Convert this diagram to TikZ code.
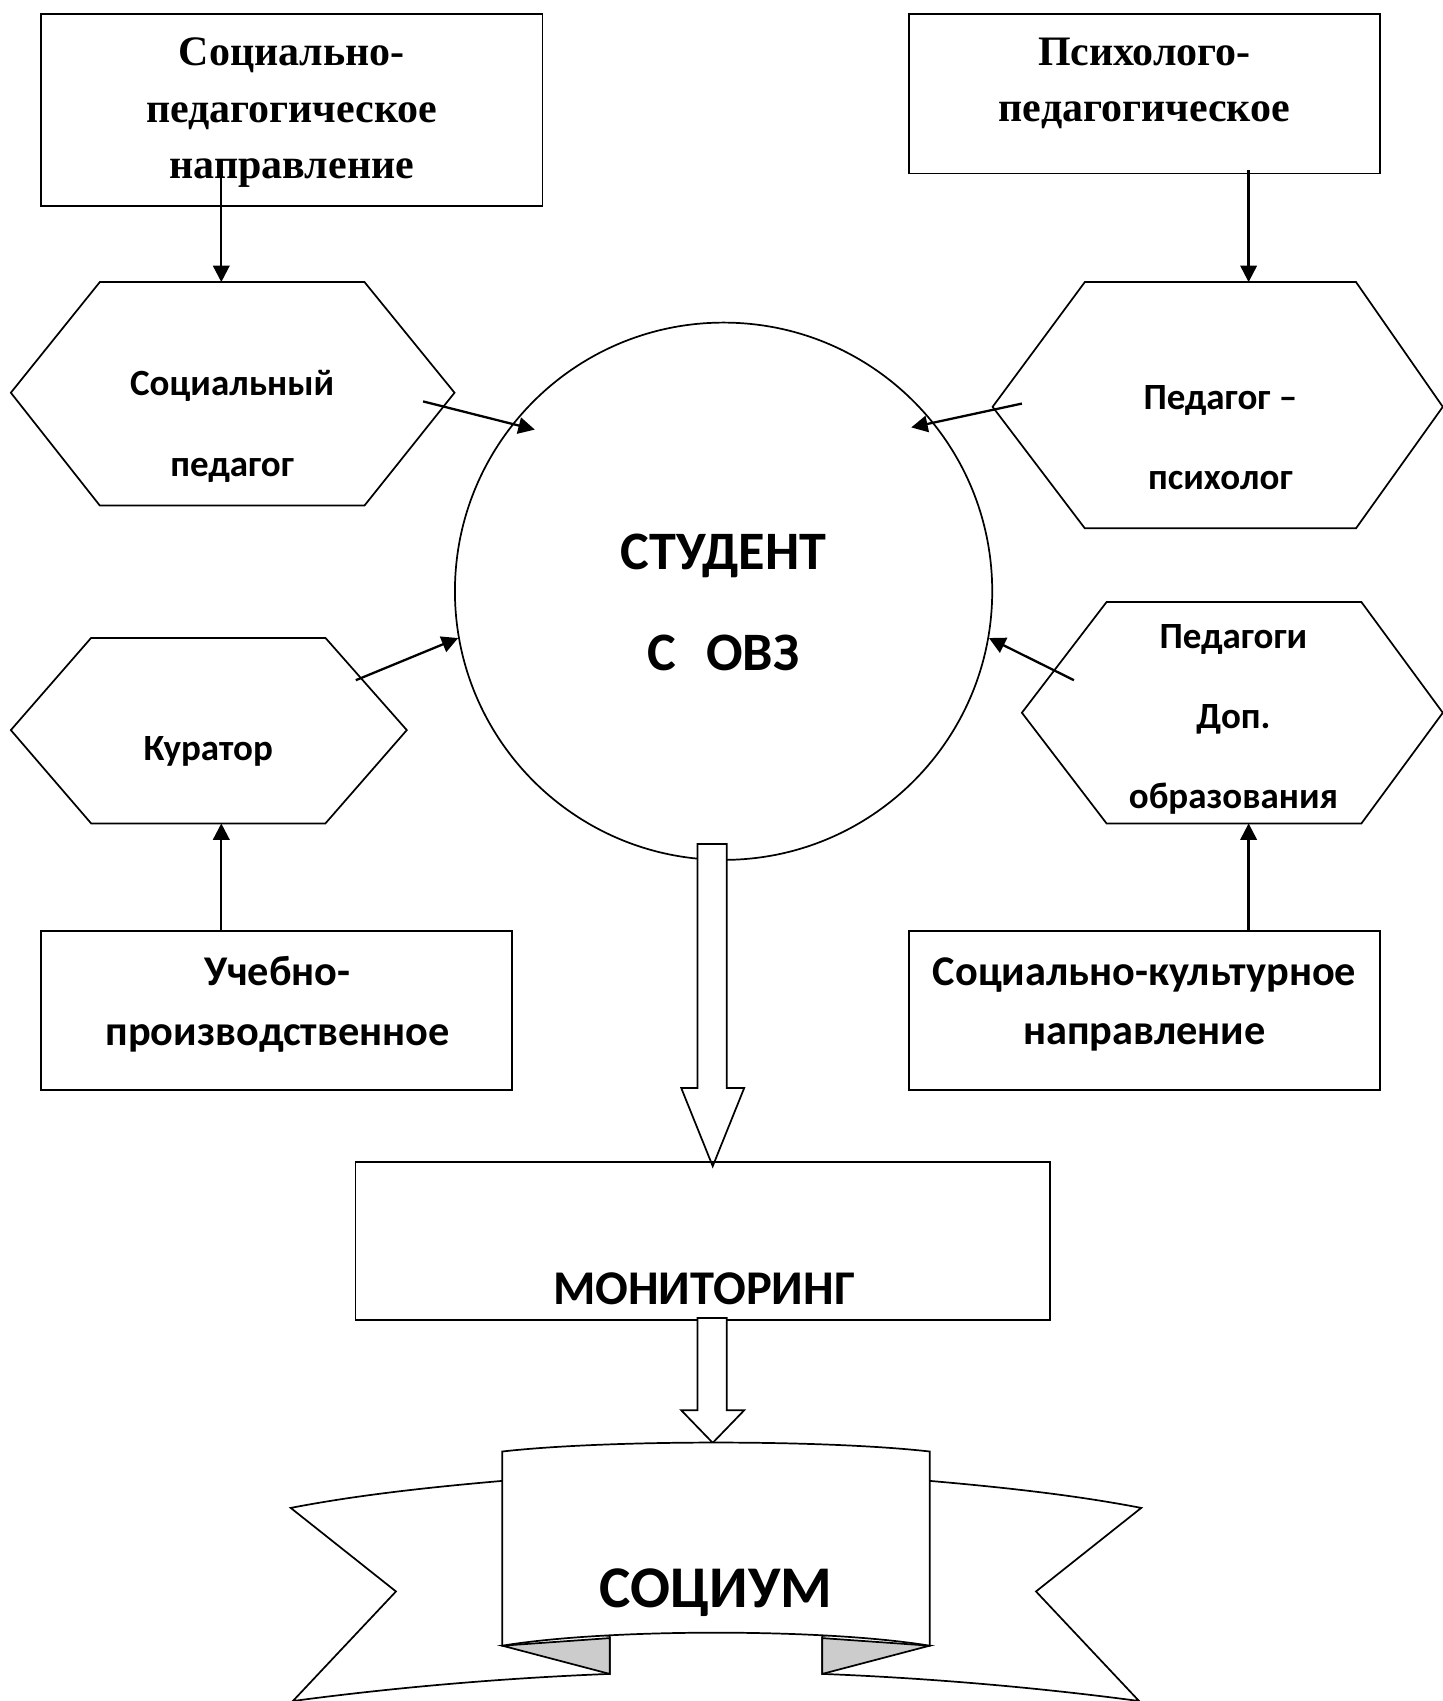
\documentclass[tikz,border=0pt]{standalone}
\usepackage{fontspec}
\setmainfont{Liberation Serif}
\newfontfamily\calibri{Carlito}
\usetikzlibrary{arrows.meta}

\begin{document}
\begin{tikzpicture}[x=0.01cm,y=-0.01cm,line width=0.45pt,
  box/.style={draw,inner sep=0pt},
  hexa/.style={draw,line join=miter},
  arr/.style={line width=0.6pt,-{Triangle[length=4.3pt,width=4.3pt]}},
  dirtext/.style={font=\bfseries\fontsize{11}{14.8}\selectfont,align=center},
  boxtext/.style={font=\calibri\bfseries\fontsize{11.1}{15.6}\selectfont,align=center},
  roletext/.style={font=\calibri\bfseries\fontsize{9.7}{21}\selectfont,align=center},
  bigtext/.style={font=\calibri\bfseries\fontsize{14.2}{26.5}\selectfont,align=center}]
\useasboundingbox (0,0) rectangle (1330,1568);

% directions
\node[box,minimum width=4.62cm,minimum height=1.77cm] (1) at (269,101.5) {};
\node[dirtext] (1t) at (269,104) {Социально-\\педагогическое\\направление};
\node[box,minimum width=4.34cm,minimum height=1.47cm] (2) at (1055,86.5) {};
\node[dirtext] (2t) at (1055,77) {Психолого-\\педагогическое};
\node[box,minimum width=4.34cm,minimum height=1.47cm] (3) at (255,931.5) {};
\node[boxtext] (3t) at (256,926) {Учебно-\\производственное};
\node[box,minimum width=4.34cm,minimum height=1.47cm] (4) at (1055,931.5) {};
\node[boxtext] (4t) at (1055,926) {Социально-культурное\\направление};

% specialists
\draw[hexa] (10,362) -- (92,260) -- (336,260) -- (419,362) -- (336,466) -- (92,466) -- cycle;
\node[roletext] (5) at (214,393) {Социальный\\педагог};
\draw[hexa] (915,375) -- (1000,260) -- (1250,260) -- (1330,375) -- (1250,487) -- (1000,487) -- cycle;
\node[roletext] (6) at (1125,403) {Педагог –\\психолог};
\draw[hexa] (10,673) -- (84,588) -- (300,588) -- (375,673) -- (300,759) -- (84,759) -- cycle;
\node[roletext] (7) at (192,693) {Куратор};
\draw[hexa] (942,657) -- (1020,555) -- (1255,555) -- (1330,657) -- (1255,759) -- (1020,759) -- cycle;
\node[roletext] (8) at (1137,663) {Педагоги\\Доп.\\образования};

% student
\node[draw,circle,minimum size=4.95cm,inner sep=0pt] (c) at (667,545) {};
\node[bigtext] (ct) at (667,555) {СТУДЕНТ\\С\hspace{0.55em}ОВЗ};

\coordinate (h1) at (204,260);
\coordinate (h2) at (1151,260);
\coordinate (h3) at (204,759);
\coordinate (h4) at (1151,759);
\coordinate (s1) at (390,370);
\coordinate (s2) at (942,372);
\coordinate (s3) at (328,627);
\coordinate (s4) at (990,627);
\coordinate (t1) at (493,396);
\coordinate (t2) at (840,394);

\draw[arr] (204,160) coordinate (a1) -- (h1);
\draw[arr] (1151,157) coordinate (a2) -- (h2);
\draw[arr] (3.north -| h3) -- (h3);
\draw[arr] (4.north -| h4) -- (h4);
\draw[arr] (s1) -- (t1);
\draw[arr] (s2) -- (t2);
\draw[arr] (s3) -- (c.190);
\draw[arr] (s4) -- (c.350);

% monitoring
\draw[fill=white] (643,778) -- (643,1003) -- (628,1003) -- (657,1075) -- (686,1003) -- (670,1003) -- (670,778) -- cycle;
\node[box,minimum width=6.4cm,minimum height=1.46cm] (9) at (648,1144) {};
\node[font=\calibri\bfseries\fontsize{12.7}{15}\selectfont] (9t) at (649,1188) {МОНИТОРИНГ};
\draw[fill=white] (643,1215) -- (643,1300) -- (628,1300) -- (657,1330) -- (686,1300) -- (670,1300) -- (670,1215) -- cycle;

% ribbon
\draw[fill=white,line join=miter] (500,1362) .. controls (400,1370) and (330,1378) .. (268,1390) -- (365,1467) -- (270,1568)
  .. controls (360,1556) and (460,1547) .. (562,1543) -- (562,1508) -- (500,1500) -- cycle;
\draw[fill=white,line join=miter] (820,1362) .. controls (920,1370) and (990,1378) .. (1052,1390) -- (955,1467) -- (1050,1568)
  .. controls (960,1556) and (860,1547) .. (758,1543) -- (758,1508) -- (820,1500) -- cycle;
\draw[fill=black!20] (463,1517) -- (562,1543) -- (562,1510) -- cycle;
\draw[fill=black!20] (857,1517) -- (758,1543) -- (758,1510) -- cycle;
\draw[fill=white] (463,1338) .. controls (560,1327) and (760,1327) .. (857,1338) -- (857,1517)
  .. controls (760,1501) and (560,1501) .. (463,1517) -- cycle;
\node[font=\calibri\bfseries\fontsize{15.5}{20}\selectfont] (10) at (660,1468) {СОЦИУМ};
\end{tikzpicture}
\end{document}
